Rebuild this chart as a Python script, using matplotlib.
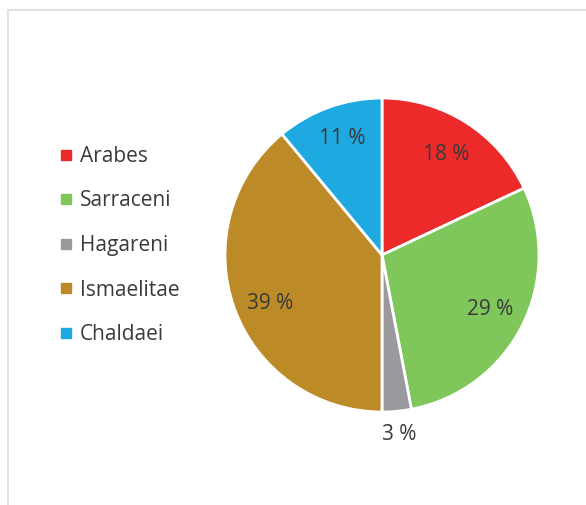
import matplotlib
matplotlib.use("Agg")
import matplotlib.pyplot as plt
from matplotlib.lines import Line2D
from matplotlib.patches import Rectangle

categories = ["Arabes", "Sarraceni", "Hagareni", "Ismaelitae", "Chaldaei"]
values = [18, 29, 3, 39, 11]
colors = ["#EC2A2A", "#7FC75A", "#9A9A9E", "#BC8B27", "#1FA9E1"]
# label positions (fraction of radius, x/y)
label_pos = [(0.408, 0.643), (0.688, -0.350), (0.108, -1.146), (-0.710, -0.306), (-0.255, 0.745)]

W, H = 586, 505
fig = plt.figure(figsize=(W / 100, H / 100), dpi=100)
fig.patch.set_facecolor("white")

# chart border (only top and left visible)
fig.add_artist(Rectangle((8 / W, -0.1), 1.2, (H - 10) / H + 0.1, transform=fig.transFigure,
                         fill=False, edgecolor="#DCDCDC", linewidth=1.2))

FONT = "Open Sans"
cx, cy, r = 382, 255, 157
ax = fig.add_axes([(cx - r) / W, (H - cy - r) / H, 2 * r / W, 2 * r / H])
wedges, texts, autotexts = ax.pie(values, colors=colors, startangle=90, counterclock=False,
                                  radius=1.0, autopct=lambda p: f"{p:.0f} %",
                                  wedgeprops=dict(edgecolor="white", linewidth=2),
                                  textprops=dict(color="#3A3A3A", fontsize=15, family=FONT))
for t, (x, y) in zip(autotexts, label_pos):
    t.set_position((x, y))
    t.set_ha("center")
    t.set_va("center")
ax.set_xlim(-1, 1)
ax.set_ylim(-1, 1)
ax.set_aspect("equal")
ax.axis("off")

handles = [Line2D([], [], marker="s", linestyle="none", markersize=6.5, markerfacecolor=c,
                  markeredgecolor=c) for c in colors]
leg = fig.legend(handles, categories, loc="center left", bbox_to_anchor=(42 / W, 1 - 245.5 / H),
                 frameon=False, handlelength=0.5, handletextpad=0.4, labelspacing=1.13,
                 prop=dict(family=FONT, size=15))
for t in leg.get_texts():
    t.set_color("#3A3A3A")

fig.savefig("out.png", dpi=100)
